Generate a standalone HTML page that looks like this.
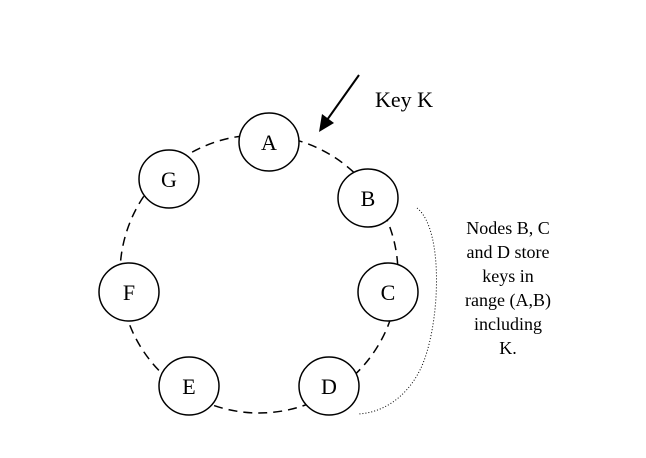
<!DOCTYPE html>
<html><head><style>body{margin:0;background:#fff}</style></head><body>
<svg width="646" height="453" viewBox="0 0 646 453" xmlns="http://www.w3.org/2000/svg" font-family="Liberation Serif, serif">
<circle cx="259" cy="274" r="139" fill="none" stroke="#000" stroke-width="1.5" stroke-dasharray="9,6"/>
<path d="M417,208 C445,230 440,330 420,370 C405,400 380,413 358,414" fill="none" stroke="#000" stroke-width="1" stroke-dasharray="1,2"/>
<line x1="359" y1="75" x2="327" y2="120" stroke="#000" stroke-width="2"/>
<polygon points="319,132 322,114 334,123" fill="#000"/>
<text x="375" y="107" font-size="22">Key K</text>
<g fill="#fff" stroke="#000" stroke-width="1.5">
<ellipse cx="269" cy="142" rx="30" ry="29"/>
<ellipse cx="169" cy="179" rx="30" ry="29"/>
<ellipse cx="368" cy="198" rx="30" ry="29"/>
<ellipse cx="129" cy="292" rx="30" ry="29"/>
<ellipse cx="388" cy="292" rx="30" ry="29"/>
<ellipse cx="189" cy="386" rx="30" ry="29"/>
<ellipse cx="329" cy="386" rx="30" ry="29"/>
</g>
<g font-size="22" text-anchor="middle">
<text x="269" y="150">A</text>
<text x="169" y="187">G</text>
<text x="368" y="206">B</text>
<text x="129" y="300">F</text>
<text x="388" y="300">C</text>
<text x="189" y="394">E</text>
<text x="329" y="394">D</text>
</g>
<g font-size="18" text-anchor="middle">
<text x="508" y="234">Nodes B, C</text>
<text x="508" y="258">and D store</text>
<text x="508" y="282">keys in</text>
<text x="508" y="306">range (A,B)</text>
<text x="508" y="330">including</text>
<text x="508" y="354">K.</text>
</g>
</svg>
</body></html>
